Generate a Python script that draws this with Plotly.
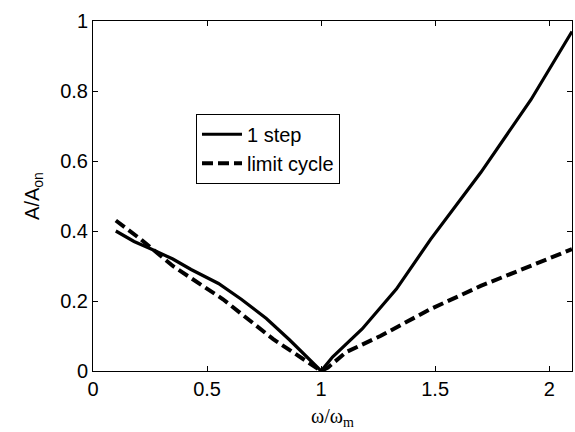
import plotly.graph_objects as go

# data
x_step = [0.10, 0.18, 0.25, 0.35, 0.43, 0.55, 0.65, 0.76, 0.86, 0.94, 1.00, 1.05, 1.18, 1.33, 1.48, 1.70, 1.92, 2.10]
y_step = [0.40, 0.37, 0.35, 0.32, 0.29, 0.25, 0.205, 0.15, 0.09, 0.04, 0.0, 0.04, 0.12, 0.234, 0.376, 0.567, 0.775, 0.97]

x_lc = [0.10, 0.21, 0.35, 0.57, 0.79, 0.92, 1.00, 1.03, 1.11, 1.26, 1.48, 1.70, 1.92, 2.10]
y_lc = [0.43, 0.376, 0.30, 0.205, 0.091, 0.034, 0.0, 0.01, 0.054, 0.10, 0.177, 0.243, 0.30, 0.348]

xticks = [0, 0.5, 1, 1.5, 2]
yticks = [0, 0.2, 0.4, 0.6, 0.8, 1]

fig = go.Figure()
fig.add_trace(go.Scatter(x=x_step, y=y_step, mode="lines", name="1 step",
                         line=dict(color="black", width=3.2)))
fig.add_trace(go.Scatter(x=x_lc, y=y_lc, mode="lines", name="limit cycle",
                         line=dict(color="black", width=4, dash="11px,5px")))

font = dict(family="Liberation Sans, Arial, sans-serif", size=20, color="black")
axis_common = dict(showgrid=False, zeroline=False, showline=True, linecolor="black",
                   linewidth=1, mirror="ticks", ticks="inside", ticklen=5,
                   tickcolor="black", tickfont=font)

fig.update_layout(
    width=575, height=432,
    margin=dict(l=93, r=3, t=21, b=61),
    paper_bgcolor="white", plot_bgcolor="white",
    font=font,
    xaxis=dict(range=[0, 2.1], tickvals=xticks, ticktext=[str(v) for v in xticks],
               title=dict(text="ω/ω<sub>m</sub>", font=dict(family="Liberation Serif, serif", size=20), standoff=9),
               **axis_common),
    yaxis=dict(range=[0, 1], tickvals=yticks, ticktext=["0", "0.2", "0.4", "0.6", "0.8", "1"],
               title=dict(text="A/A<sub>on</sub>", font=font, standoff=15),
               **axis_common),
    legend=dict(x=0.215, y=0.735, xanchor="left", yanchor="top",
                bordercolor="black", borderwidth=1, bgcolor="white",
                font=dict(family="Liberation Sans, Arial, sans-serif", size=20, color="black"),
                itemwidth=40, tracegroupgap=0),
)

fig.write_html("out.html")
